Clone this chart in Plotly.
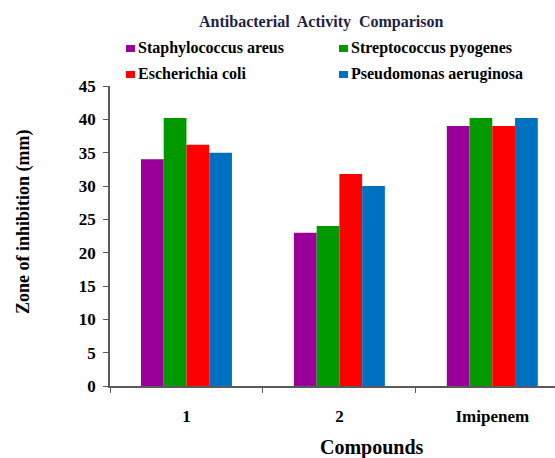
import plotly.graph_objects as go

# Zone of inhibition (mm) for each compound against four bacterial strains
compounds = ["1", "2", "Imipenem"]
strains = [
    "Staphylococcus areus",
    "Streptococcus pyogenes",
    "Escherichia coli",
    "Pseudomonas aeruginosa",
]
staph = [34, 23, 39]
strep = [40.2, 24, 40.2]
ecoli = [36.2, 31.8, 39]
pseudo = [35, 30, 40.2]
series = [staph, strep, ecoli, pseudo]
colors = ["#990099", "#009900", "#FF0000", "#0070C0"]
y_ticks = [0, 5, 10, 15, 20, 25, 30, 35, 40, 45]

SERIF = "Liberation Serif, Times New Roman, serif"

W, H = 555, 458
ML, MT, MB = 110, 86, 72
PW, PH = W - ML, H - MT - MB


def px_x(px):
    return (px - ML) / PW


def px_y(py):
    return (H - MB - py) / PH


fig = go.Figure()
for name, vals, col in zip(strains, series, colors):
    fig.add_trace(go.Bar(
        x=compounds, y=vals, name=name,
        marker=dict(color=col, line=dict(width=0)),
        showlegend=False,
    ))

# Two-column legend drawn as coloured squares with bold labels
legend_pos = [(126, 49), (339, 49), (126, 75), (339, 75)]
for (lx, ly), name, col in zip(legend_pos, strains, colors):
    fig.add_shape(
        type="rect", xref="paper", yref="paper",
        x0=px_x(lx), x1=px_x(lx + 9), y0=px_y(ly + 3), y1=px_y(ly - 4),
        fillcolor=col, line=dict(width=0),
    )
    fig.add_annotation(
        x=px_x(lx + 10), y=px_y(ly - 1), xref="paper", yref="paper",
        xanchor="left", yanchor="middle", showarrow=False,
        text=f"<b>{name}</b>",
        font=dict(family=SERIF, size=16, color="black"),
    )

fig.add_annotation(
    x=px_x(321), y=px_y(22), xref="paper", yref="paper",
    xanchor="center", yanchor="middle", showarrow=False,
    text="<b>Antibacterial&nbsp; Activity&nbsp; Comparison</b>",
    font=dict(family=SERIF, size=16, color="#1F1F45"),
)
fig.add_annotation(
    x=px_x(23), y=px_y(222), xref="paper", yref="paper",
    xanchor="center", yanchor="middle", showarrow=False, textangle=-90,
    text="<b>Zone of inhibition (mm)</b>",
    font=dict(family=SERIF, size=18, color="black"),
)
fig.add_annotation(
    x=px_x(372), y=px_y(447), xref="paper", yref="paper",
    xanchor="center", yanchor="middle", showarrow=False,
    text="<b>Compounds</b>",
    font=dict(family=SERIF, size=20, color="black"),
)

fig.update_layout(
    width=W, height=H,
    margin=dict(l=ML, r=0, t=MT, b=MB, pad=0),
    paper_bgcolor="white", plot_bgcolor="white",
    barmode="group", bargap=0.405, bargroupgap=0,
    font=dict(family=SERIF, color="black"),
)
fig.update_xaxes(
    type="category", range=[-0.5, 2.41],
    showline=True, linecolor="#5a5a5a", linewidth=1.5,
    ticks="outside", tickson="boundaries", ticklen=5, tickwidth=1.2,
    tickcolor="#5a5a5a", showgrid=False, zeroline=False,
    ticklabelstandoff=14,
    tickfont=dict(family=SERIF, size=17, color="black", weight="bold"),
)
fig.update_yaxes(
    range=[0, 45], tickvals=y_ticks,
    showline=True, linecolor="#5a5a5a", linewidth=1.5,
    ticks="outside", ticklen=5, tickwidth=1.2, tickcolor="#5a5a5a",
    showgrid=False, zeroline=False, ticklabelstandoff=4,
    tickfont=dict(family=SERIF, size=17, color="black", weight="bold"),
)

fig.write_html("out.html")
